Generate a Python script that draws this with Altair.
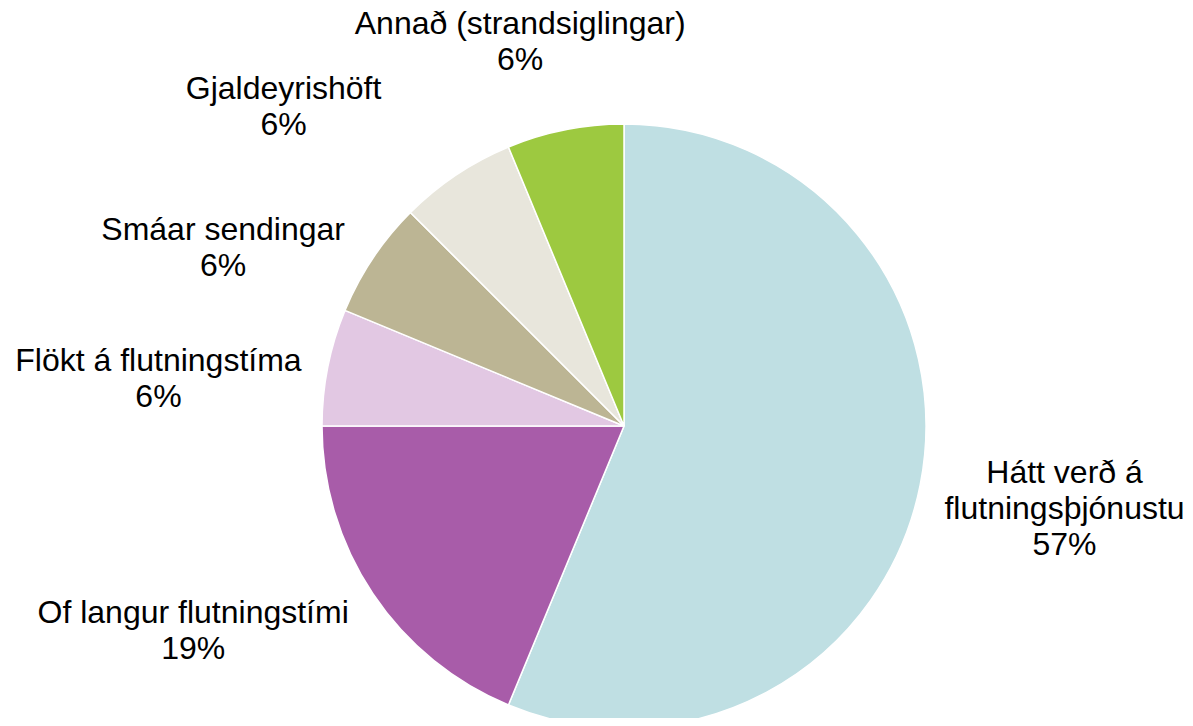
import altair as alt
import pandas as pd

categories = [
    "Hátt verð á flutningsþjónustu",
    "Of langur flutningstími",
    "Flökt á flutningstíma",
    "Smáar sendingar",
    "Gjaldeyrishöft",
    "Annað (strandsiglingar)",
]
label_lines = [
    ["Hátt verð á", "flutningsþjónustu", "57%"],
    ["Of langur flutningstími", "19%"],
    ["Flökt á flutningstíma", "6%"],
    ["Smáar sendingar", "6%"],
    ["Gjaldeyrishöft", "6%"],
    ["Annað (strandsiglingar)", "6%"],
]
# slice shares
shares = [56.25, 18.75, 6.25, 6.25, 6.25, 6.25]
colors = ["#BFDFE3", "#A85CA9", "#E2C8E3", "#BCB594", "#E8E6DC", "#9DC940"]

df = pd.DataFrame({
    "cat": categories,
    "share": shares,
    "idx": list(range(len(categories))),
    "label": label_lines,
})

CX, CY, R = 616, 418, 302
LABEL_R = 440
offsets = {
    0: (9, -39),
    1: (-65, -57),
    2: (-34, 21),
    3: (-35, 48),
    4: (-96, 29),
    5: (-18, 30),
}

theta_scale = alt.Scale(domain=[0, 100], range=[0, 6.283185307179586])

pie = alt.Chart(df).mark_arc(stroke="white", strokeWidth=1.5).encode(
    theta=alt.Theta("share:Q", stack=True),
    order=alt.Order("idx:Q"),
    color=alt.Color("cat:N", scale=alt.Scale(domain=categories, range=colors), legend=None),
    x=alt.value(CX),
    y=alt.value(CY),
    radius=alt.value(R),
)

layers = [pie]
for i in range(len(categories)):
    dx, dy = offsets[i]
    t = alt.Chart(df).transform_window(
        cum="sum(share)", sort=[alt.SortField("idx")]
    ).transform_calculate(
        mid="datum.cum - datum.share / 2"
    ).transform_filter(
        alt.datum.idx == i
    ).mark_text(
        font="Liberation Sans", fontSize=32, lineHeight=36, color="black",
        align="center", baseline="middle", dx=dx, dy=dy,
    ).encode(
        theta=alt.Theta("mid:Q", scale=theta_scale),
        radius=alt.value(LABEL_R),
        x=alt.value(CX),
        y=alt.value(CY),
        text="label",
    )
    layers.append(t)

chart = alt.layer(*layers).properties(
    width=1177, height=710, autosize="none", padding=0
).configure_view(stroke=None)

chart.save("out.html", embed_options={"renderer": "svg", "actions": False})
